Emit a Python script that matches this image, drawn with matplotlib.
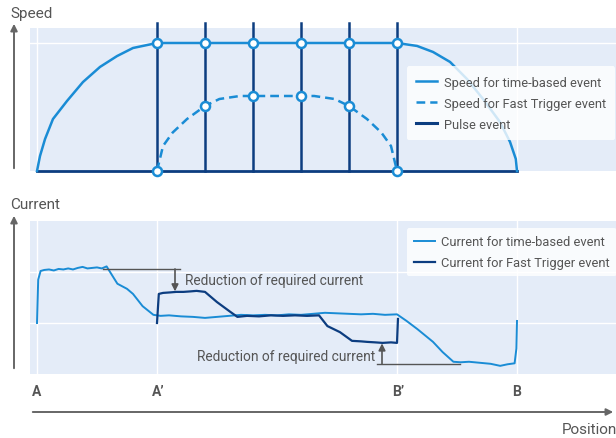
import matplotlib.pyplot as plt
from matplotlib.patches import FancyArrowPatch

plt.rcParams['font.family'] = ['Roboto', 'DejaVu Sans']

# colours
bg = '#e4ecf8'
light = '#1a8cd5'
dark = '#0c3d80'
grey = '#555555'

# positions: A=0, A'=1, B'=3, B=4
pos_labels = ['A', 'A\u2019', 'B\u2019', 'B']
pos_ticks = [0, 1, 3, 4]
pulse_x = [1.0, 1.4, 1.8, 2.2, 2.6, 3.0]

# speed, time-based (normalised, 1 = full speed)
speed_x = [0, 0.025, 0.067, 0.133, 0.25, 0.383, 0.525, 0.667, 0.8, 0.917, 1.0,
           3.0, 3.167, 3.3, 3.442, 3.583, 3.717, 3.858, 3.942, 3.99, 4.0]
speed_y = [0, 0.117, 0.25, 0.406, 0.547, 0.695, 0.813, 0.898, 0.961, 0.984, 1.0,
           1.0, 0.977, 0.93, 0.852, 0.719, 0.5625, 0.383, 0.227, 0.094, 0]

# speed, fast trigger
fast_x = [1.0, 1.05, 1.13, 1.25, 1.4, 1.52, 1.69, 1.8, 2.2, 2.31, 2.48, 2.6, 2.75, 2.87, 2.95, 3.0]
fast_y = [0, 0.195, 0.30, 0.406, 0.508, 0.5625, 0.586, 0.586, 0.586, 0.586, 0.5625, 0.508,
          0.406, 0.30, 0.195, 0]
fast_mark_y = [0, 0.508, 0.586, 0.586, 0.508, 0]

# current, time-based
cur_time_x = [0, 0.01, 0.03, 0.06, 0.1, 0.14, 0.18, 0.22, 0.26, 0.3, 0.34, 0.38, 0.42, 0.46,
              0.5, 0.54, 0.58, 0.63, 0.67, 0.75, 0.8, 0.88, 0.97, 1.03, 1.1, 1.2, 1.3, 1.4,
              1.5, 1.6, 1.7, 1.8, 1.9, 2.0, 2.1, 2.2, 2.3, 2.4, 2.5, 2.6, 2.7, 2.8, 2.9, 3.0,
              3.08, 3.17, 3.3, 3.38, 3.47, 3.53, 3.6, 3.69, 3.78, 3.86, 3.92, 3.98, 3.995, 4.0]
cur_time_y = [1.0, 1.85, 2.02, 2.04, 2.05, 2.03, 2.06, 2.05, 2.07, 2.05, 2.08, 2.10, 2.07, 2.08,
              2.09, 2.07, 2.11, 1.92, 1.77, 1.67, 1.57, 1.33, 1.16, 1.14, 1.15, 1.13, 1.12, 1.10,
              1.12, 1.14, 1.16, 1.15, 1.16, 1.15, 1.17, 1.16, 1.18, 1.20, 1.19, 1.18, 1.17, 1.18,
              1.16, 1.17, 1.04, 0.88, 0.63, 0.43, 0.24, 0.23, 0.24, 0.22, 0.20, 0.16, 0.19, 0.21,
              0.5, 1.04]

# current, fast trigger
cur_fast_x = [1.0, 1.015, 1.05, 1.11, 1.16, 1.22, 1.28, 1.33, 1.4, 1.5, 1.61, 1.67, 1.75, 1.85,
              1.95, 2.05, 2.15, 2.25, 2.35, 2.42, 2.525, 2.625, 2.7, 2.75, 2.82, 2.88, 2.95, 3.0, 3.008]
cur_fast_y = [1.0, 1.57, 1.59, 1.60, 1.61, 1.61, 1.62, 1.63, 1.61, 1.41, 1.22, 1.12, 1.14, 1.13,
              1.15, 1.14, 1.15, 1.14, 1.15, 0.94, 0.82, 0.65, 0.64, 0.63, 0.62, 0.61, 0.62, 0.61, 1.08]

W, H = 616, 439
fig = plt.figure(figsize=(W / 100, H / 100), dpi=100)

def box(l, t, r, b):
    return [l / W, 1 - b / H, (r - l) / W, (b - t) / H]

xlim = ((30 - 37) / 120, (616 - 37) / 120)

ax1 = fig.add_axes(box(30, 29, 616, 172))
ax2 = fig.add_axes(box(30, 222, 616, 375))
for ax in (ax1, ax2):
    ax.set_facecolor(bg)
    ax.set_xlim(*xlim)
    for s in ax.spines.values():
        s.set_visible(False)
    ax.set_xticks([])
    ax.set_yticks([])

leg_kw = dict(loc='upper left', borderaxespad=0, frameon=True, facecolor='white',
              edgecolor='none', framealpha=0.8, fontsize=9.3, handlelength=1.6,
              labelcolor=grey, labelspacing=0.62, handletextpad=0.5)

# ---- top panel
ax1.set_ylim(0, (172 - 29) / 128)
for gx in [0, 4]:
    ax1.axvline(gx, color='white', lw=1, zorder=0.5)
ax1.axhline(1.0, color='white', lw=1, zorder=0.5)

ax1.plot([0, 4], [0, 0], color=dark, lw=2, clip_on=False, zorder=2)
for px in pulse_x:
    ax1.plot([px, px], [0, (172 - 24) / 128], color=dark, lw=1.8, clip_on=False, zorder=2)
ax1.plot([], [], color=dark, lw=2.2, label='Pulse event')
ax1.plot(speed_x, speed_y, color=light, lw=1.8, zorder=3, label='Speed for time-based event',
         clip_on=False)
ax1.plot(fast_x, fast_y, color=light, lw=1.8, ls=(0, (3.5, 2)), zorder=3,
         label='Speed for Fast Trigger event')
mk = dict(ls='none', marker='o', ms=6.5, mfc='white', mec=light, mew=1.8, zorder=4, clip_on=False)
ax1.plot(pulse_x, [1.0] * len(pulse_x), **mk)
ax1.plot(pulse_x, fast_mark_y, **mk)

h, l = ax1.get_legend_handles_labels()
order = [1, 2, 0]
ax1.legend([h[i] for i in order], [l[i] for i in order],
           bbox_to_anchor=(0.643, 0.734), borderpad=0.75, **leg_kw)

# ---- bottom panel
ax2.set_ylim(0, 3.0)
for gx in pos_ticks:
    ax2.axvline(gx, color='white', lw=1, zorder=0.5)
for gy in [1, 2]:
    ax2.axhline(gy, color='white', lw=1, zorder=0.5)

ax2.plot(cur_time_x, cur_time_y, color=light, lw=1.4, zorder=3, label='Current for time-based event')
ax2.plot(cur_fast_x, cur_fast_y, color=dark, lw=1.6, zorder=4, label='Current for Fast Trigger event')

ax2.legend(bbox_to_anchor=(0.643, 0.954), borderpad=0.55, **leg_kw)

# annotations
ax2.plot([0.55, 1.19], [2.06, 2.06], color=grey, lw=1, zorder=5)
ax2.annotate('', xy=(1.15, 1.62), xytext=(1.15, 2.06),
             arrowprops=dict(arrowstyle='-|>', color=grey, lw=1.2, mutation_scale=10,
                             shrinkA=0, shrinkB=0), zorder=5)
ax2.text(1.23, 1.84, 'Reduction of required current', color=grey, fontsize=9.9,
         va='center', ha='left')
ax2.plot([2.83, 3.525], [0.2, 0.2], color=grey, lw=1, zorder=5)
ax2.annotate('', xy=(2.875, 0.6), xytext=(2.875, 0.2),
             arrowprops=dict(arrowstyle='-|>', color=grey, lw=1.2, mutation_scale=10,
                             shrinkA=0, shrinkB=0), zorder=5)
ax2.text(2.82, 0.35, 'Reduction of required current', color=grey, fontsize=9.9,
         va='center', ha='right')

# position letters
ly = -(392 - 375) / 51
for px, lab in zip(pos_ticks, pos_labels):
    if lab.endswith('\u2019'):
        ax2.text(px - 0.04, ly, lab, color=grey, fontsize=10, fontweight='bold',
                 ha='left', va='center')
    else:
        ax2.text(px, ly, lab, color=grey, fontsize=10, fontweight='bold',
                 ha='center', va='center')

# axis arrows and labels
def farrow(x0, y0, x1, y1):
    fig.add_artist(FancyArrowPatch(
        (x0 / W, 1 - y0 / H), (x1 / W, 1 - y1 / H), transform=fig.transFigure,
        arrowstyle='-|>', mutation_scale=10, color='#666666', lw=1.4))

farrow(14, 172, 14, 22)
farrow(14, 372, 14, 214)
farrow(30, 413, 616, 413)

fig.text(10 / W, 1 - 14 / H, 'Speed', color=grey, fontsize=11, va='center', ha='left')
fig.text(10 / W, 1 - 205 / H, 'Current', color=grey, fontsize=11, va='center', ha='left')
fig.text(562 / W, 1 - 430 / H, 'Position', color=grey, fontsize=11, va='center', ha='left')

fig.savefig('out.png', dpi=100)
